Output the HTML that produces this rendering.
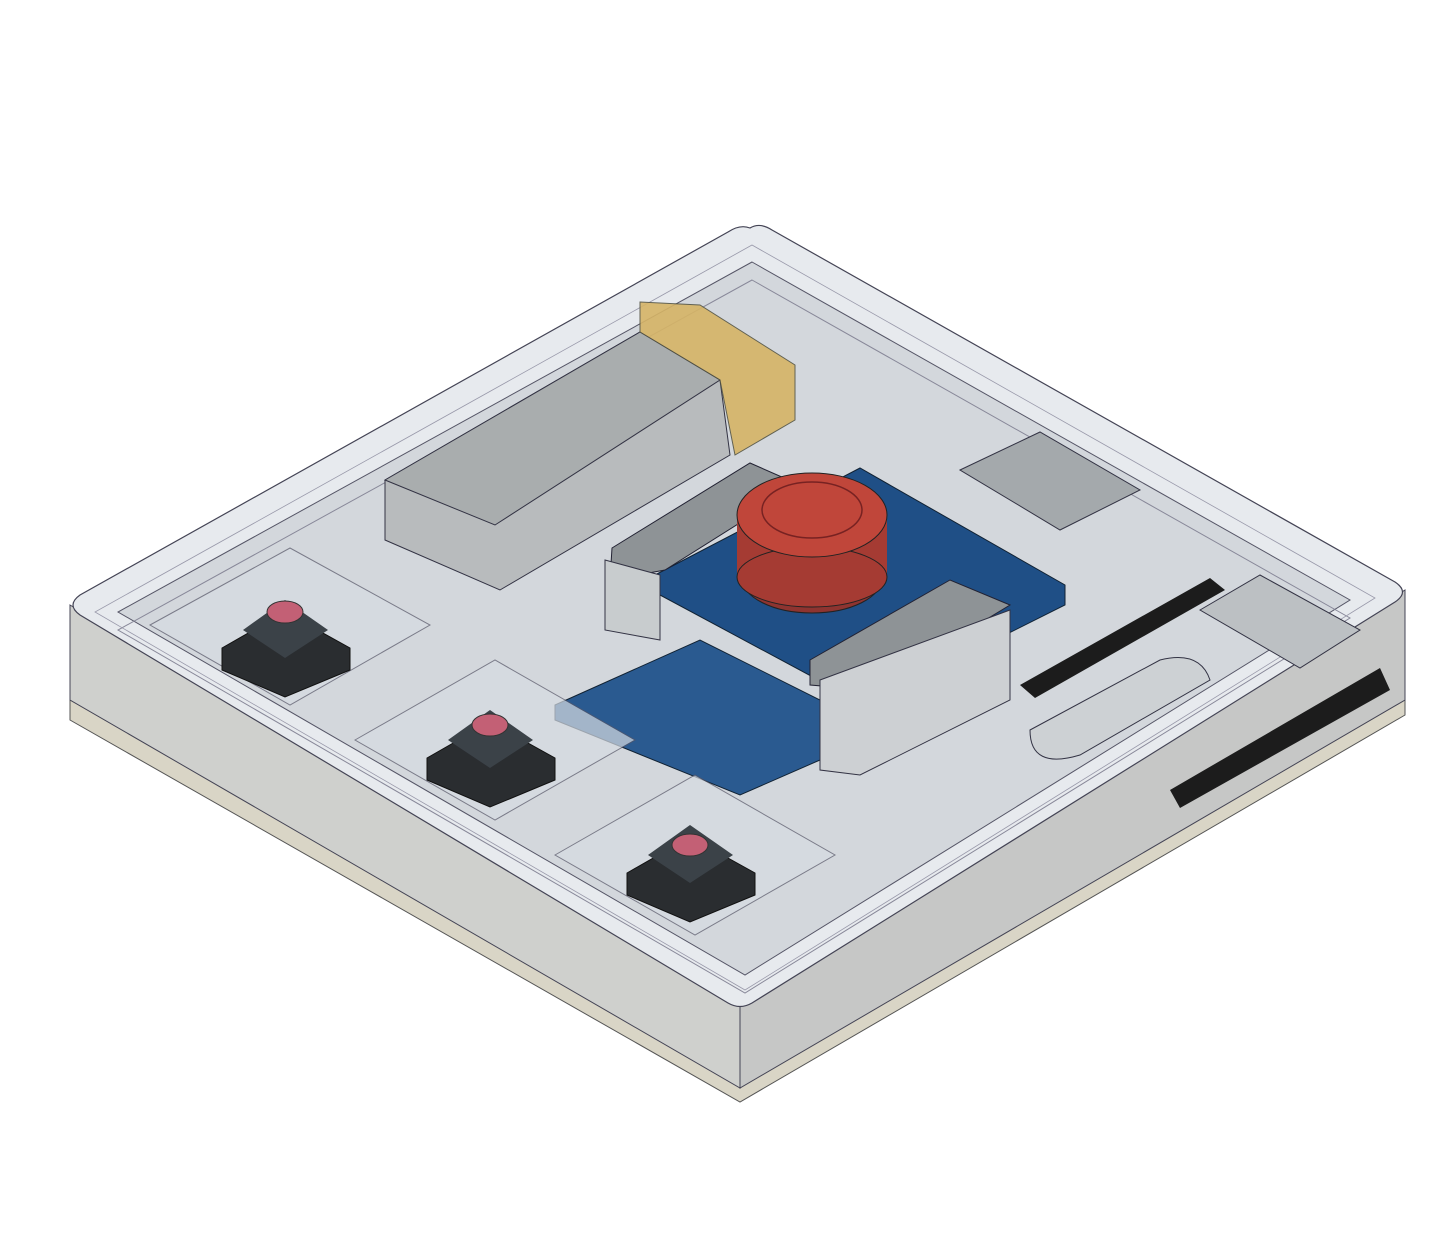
<!DOCTYPE html>
<html><head><meta charset="utf-8"><style>
html,body{margin:0;padding:0;background:#fff;width:1448px;height:1237px;overflow:hidden}
svg{display:block}
</style></head><body>
<svg width="1448" height="1237" viewBox="0 0 1448 1237" xmlns="http://www.w3.org/2000/svg">
<g>
<path d="M70,700 L740,1085 L1405,700 L1405,715 L740,1102 L70,720 Z" fill="#d9d5c6" stroke="#555" stroke-width="1"/>
</g>
<g>
<path d="M70,605 L740,1005 L740,1088 L70,700 Z" fill="#cfd0cd" stroke="#445" stroke-width="1"/>
<path d="M740,1005 L1405,590 L1405,700 L740,1088 Z" fill="#c6c7c6" stroke="#445" stroke-width="1"/>
</g>
<g>
<path d="M750,228 Q760,222 772,230 L1395,582 Q1410,592 1395,602 L752,1003 Q740,1010 728,1003 L80,615 Q66,605 80,595 L728,232 Q740,224 750,228 Z" fill="#e7eaee" stroke="#445" stroke-width="1.2"/>
<path d="M752,262 L1350,600 L745,975 L118,612 Z" fill="#d3d7dc" stroke="#556" stroke-width="1"/>
<path d="M752,280 L1350,618 L745,993 L118,630 Z" fill="none" stroke="#889" stroke-width="1"/>
<path d="M752,245 L1375,598 L745,990 L95,612 Z" fill="none" stroke="#99a" stroke-width="0.8"/>
</g>
<g>
<path d="M385,480 L640,332 L720,380 L730,455 L500,590 L385,540 Z" fill="#b8bbbd" stroke="#334" stroke-width="1"/>
<path d="M385,480 L640,332 L720,380 L495,525 Z" fill="#a9adae" stroke="#334" stroke-width="1"/>
<path d="M640,302 L700,305 L795,365 L795,420 L735,455 L720,380 L640,332 Z" fill="#d6b466" stroke="#554" stroke-width="1" opacity="0.9"/>
</g>
<g>
<path d="M655,575 L860,468 L1065,585 L1065,605 L865,705 L660,595 Z" fill="#1f4f86" stroke="#123" stroke-width="1"/>
<path d="M555,705 L700,640 L820,700 L820,760 L740,795 L555,720 Z" fill="#2a5a90" stroke="#123" stroke-width="1"/>
</g>
<g>
<path d="M612,548 L750,463 L800,485 L665,570 L610,580 Z" fill="#8e9396" stroke="#223" stroke-width="1"/>
<path d="M605,560 L660,575 L660,640 L605,630 Z" fill="#c8ccce" stroke="#334" stroke-width="1"/>
<path d="M810,660 L950,580 L1010,605 L870,690 L810,685 Z" fill="#8e9396" stroke="#223" stroke-width="1"/>
<path d="M820,680 L1010,610 L1010,700 L860,775 L820,770 Z" fill="#cdd0d3" stroke="#334" stroke-width="1"/>
</g>
<g>
<ellipse cx="812" cy="578" rx="70" ry="35" fill="#8e3430" stroke="#222"/>
<rect x="737" y="515" width="150" height="62" fill="#a53b33"/>
<ellipse cx="812" cy="577" rx="75" ry="30" fill="#a53b33" stroke="#222"/>
<ellipse cx="812" cy="515" rx="75" ry="42" fill="#c0463a" stroke="#222"/>
<ellipse cx="812" cy="510" rx="50" ry="28" fill="none" stroke="#722" stroke-width="1.5"/>
</g>
<g>
<path d="M150,625 L290,548 L430,625 L290,705 Z" fill="#d7dce2" stroke="#556" opacity="0.7"/>
<path d="M355,740 L495,660 L635,740 L495,820 Z" fill="#d7dce2" stroke="#556" opacity="0.7"/>
<path d="M555,855 L695,775 L835,855 L695,935 Z" fill="#d7dce2" stroke="#556" opacity="0.7"/>
</g>
<g>
<path d="M222,648 L285,612 L350,648 L350,670 L285,697 L222,670 Z" fill="#2a2d30" stroke="#111"/>
<path d="M243,630 L285,600 L328,630 L285,658 Z" fill="#3b4248"/>
<ellipse cx="285" cy="612" rx="18" ry="11" fill="#c36075" stroke="#333"/>
</g>
<g>
<path d="M427,758 L490,722 L555,758 L555,780 L490,807 L427,780 Z" fill="#2a2d30" stroke="#111"/>
<path d="M448,740 L490,710 L533,740 L490,768 Z" fill="#3b4248"/>
<ellipse cx="490" cy="725" rx="18" ry="11" fill="#c36075" stroke="#333"/>
</g>
<g>
<path d="M627,873 L690,837 L755,873 L755,895 L690,922 L627,895 Z" fill="#2a2d30" stroke="#111"/>
<path d="M648,855 L690,825 L733,855 L690,883 Z" fill="#3b4248"/>
<ellipse cx="690" cy="845" rx="18" ry="11" fill="#c36075" stroke="#333"/>
</g>
<g>
<path d="M960,470 L1040,432 L1140,490 L1060,530 Z" fill="#a4a9ac" stroke="#334"/>
</g>
<g>
<path d="M1020,685 L1210,578 L1225,590 L1035,698 Z" fill="#1c1c1c"/>
<path d="M1170,790 L1380,668 L1390,690 L1180,808 Z" fill="#1c1c1c"/>
</g>
<g>
<path d="M1030,730 L1160,660 Q1200,650 1210,680 L1080,755 Q1030,770 1030,730 Z" fill="#cdd1d4" stroke="#334"/>
<path d="M1200,610 L1260,575 L1360,630 L1300,668 Z" fill="#bcc0c3" stroke="#334"/>
</g>
</svg>
</body></html>
